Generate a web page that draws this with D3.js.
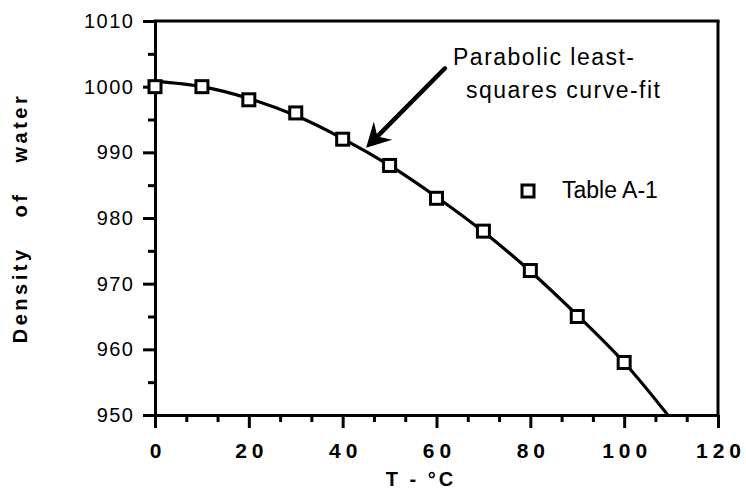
<!DOCTYPE html>
<html><head><meta charset="utf-8">
<script src="https://cdn.jsdelivr.net/npm/d3@7"></script>
<style>body{margin:0;background:#fff}svg{display:block}</style>
</head><body>
<svg id="c" width="746" height="493"></svg>
<script>
// ---- data ----
const tempC   = [0, 10, 20, 30, 40, 50, 60, 70, 80, 90, 100];
const density = [1000, 1000, 998, 996, 992, 988, 983, 978, 972, 965, 958];
const fitT    = [0, 10, 20, 30, 40, 50, 60, 70, 80, 90, 100, 109.3];
const fitRho  = [1000.8, 1000.0, 998.2, 995.6, 992.1, 988.0, 983.2, 977.9, 971.9, 965.2, 958.0, 950.0];
const xTicks  = [0, 20, 40, 60, 80, 100, 120];
const yTicks  = [950, 960, 970, 980, 990, 1000, 1010];
const xTitle  = "T - \u00B0C";
const yTitle  = "Density of water";
const legendLabel = "Table A-1";
const noteLines = ["Parabolic least-", "squares curve-fit"];
const arrowTail = [61.8, 1002.8];
const arrowTip  = [45.0, 990.7];

// ---- layout ----
const L = 155, R = 718, T = 21, B = 415;
const FONT = "'Liberation Sans', Arial, Helvetica, sans-serif";
const svg = d3.select("#c");
const x = d3.scaleLinear().domain([0, 120]).range([L, R]);
const y = d3.scaleLinear().domain([950, 1010]).range([B, T]);

const minorX = d3.range(0, 120.001, 20/3).filter(v => Math.abs(v/20 - Math.round(v/20)) > 1e-6);
const minorY = d3.range(955, 1010, 10);

// minor ticks
svg.append("g").attr("transform", `translate(0,${B})`)
  .call(d3.axisBottom(x).tickValues(minorX).tickSize(7).tickSizeOuter(0).tickFormat(""))
  .call(g => g.select(".domain").remove())
  .call(g => g.selectAll("line").attr("stroke", "#000").attr("stroke-width", 3));
svg.append("g").attr("transform", `translate(${L},0)`)
  .call(d3.axisLeft(y).tickValues(minorY).tickSize(7).tickSizeOuter(0).tickFormat(""))
  .call(g => g.select(".domain").remove())
  .call(g => g.selectAll("line").attr("stroke", "#000").attr("stroke-width", 3));

// major x axis
const gx = svg.append("g").attr("transform", `translate(0,${B})`)
  .call(d3.axisBottom(x).tickValues(xTicks).tickSize(13).tickSizeOuter(0).tickPadding(15).tickFormat(d3.format("d")));
gx.select(".domain").attr("stroke", "#000").attr("stroke-width", 3);
gx.selectAll("line").attr("stroke", "#000").attr("stroke-width", 3);
gx.selectAll("text").attr("font-family", FONT).attr("font-size", 21).attr("font-weight", "bold")
  .attr("fill", "#000").attr("letter-spacing", "5px").attr("dx", "2.5px");

// major y axis
const gy = svg.append("g").attr("transform", `translate(${L},0)`)
  .call(d3.axisLeft(y).tickValues(yTicks).tickSize(12).tickSizeOuter(0).tickPadding(10).tickFormat(d3.format("d")));
gy.select(".domain").attr("stroke", "#000").attr("stroke-width", 3);
gy.selectAll("line").attr("stroke", "#000").attr("stroke-width", 3);
gy.selectAll("text").attr("font-family", FONT).attr("font-size", 20)
  .attr("fill", "#000").attr("letter-spacing", "1.5px").attr("dx", "1.5px");

// frame top/right
svg.append("line").attr("x1", x(0) - 1.5).attr("x2", x(120) + 1.5).attr("y1", y(1010)).attr("y2", y(1010))
  .attr("stroke", "#000").attr("stroke-width", 3);
svg.append("line").attr("x1", x(120)).attr("x2", x(120)).attr("y1", y(1010)).attr("y2", y(950))
  .attr("stroke", "#000").attr("stroke-width", 3);

// fit curve
const fit = fitT.map((t, i) => [t, fitRho[i]]);
svg.append("path").datum(fit)
  .attr("d", d3.line().x(d => x(d[0])).y(d => y(d[1])).curve(d3.curveCatmullRom))
  .attr("fill", "none").attr("stroke", "#000").attr("stroke-width", 3.2);

// markers
const S = 12;
svg.append("g").selectAll("rect").data(tempC.map((t, i) => [t, density[i]])).join("rect")
  .attr("x", d => x(d[0]) - S/2).attr("y", d => y(d[1]) - S/2)
  .attr("width", S).attr("height", S)
  .attr("fill", "#fff").attr("stroke", "#000").attr("stroke-width", 3);

// legend
svg.append("rect").attr("x", 528 - S/2).attr("y", 191 - S/2).attr("width", S).attr("height", S)
  .attr("fill", "#fff").attr("stroke", "#000").attr("stroke-width", 3);
svg.append("text").attr("x", 562).attr("y", 198).text(legendLabel)
  .attr("font-family", FONT).attr("font-size", 23).attr("fill", "#000");

// annotation
svg.append("text").attr("x", 453).attr("y", 65).text(noteLines[0])
  .attr("font-family", FONT).attr("font-size", 23).attr("letter-spacing", "1.5px").attr("fill", "#000");
svg.append("text").attr("x", 466).attr("y", 98).text(noteLines[1])
  .attr("font-family", FONT).attr("font-size", 23).attr("letter-spacing", "1.5px").attr("fill", "#000");

// arrow
const tx = x(arrowTail[0]), ty = y(arrowTail[1]);
const hx = x(arrowTip[0]), hy = y(arrowTip[1]);
const len = Math.hypot(hx - tx, hy - ty);
const ux = (hx - tx) / len, uy = (hy - ty) / len;
const px = -uy, py = ux;
const headL = 24, headW = 13, notch = 16;
svg.append("line").attr("x1", tx).attr("y1", ty)
  .attr("x2", hx - ux * notch).attr("y2", hy - uy * notch)
  .attr("stroke", "#000").attr("stroke-width", 4.5).attr("stroke-linecap", "round");
svg.append("path").attr("d", d3.line()([
  [hx, hy],
  [hx - ux * headL + px * headW, hy - uy * headL + py * headW],
  [hx - ux * notch, hy - uy * notch],
  [hx - ux * headL - px * headW, hy - uy * headL - py * headW]
]) + "Z").attr("fill", "#000");

// axis titles
svg.append("text").attr("x", 421).attr("y", 486).attr("text-anchor", "middle").text(xTitle)
  .attr("font-family", FONT).attr("font-size", 20).attr("font-weight", "bold")
  .attr("letter-spacing", "3px").attr("fill", "#000");
svg.append("text").attr("transform", `translate(27,${(T + B) / 2}) rotate(-90)`)
  .attr("text-anchor", "middle").text(yTitle)
  .attr("font-family", FONT).attr("font-size", 20).attr("font-weight", "bold")
  .attr("letter-spacing", "3.5px").attr("word-spacing", "20px").attr("fill", "#000");
</script>
</body></html>
